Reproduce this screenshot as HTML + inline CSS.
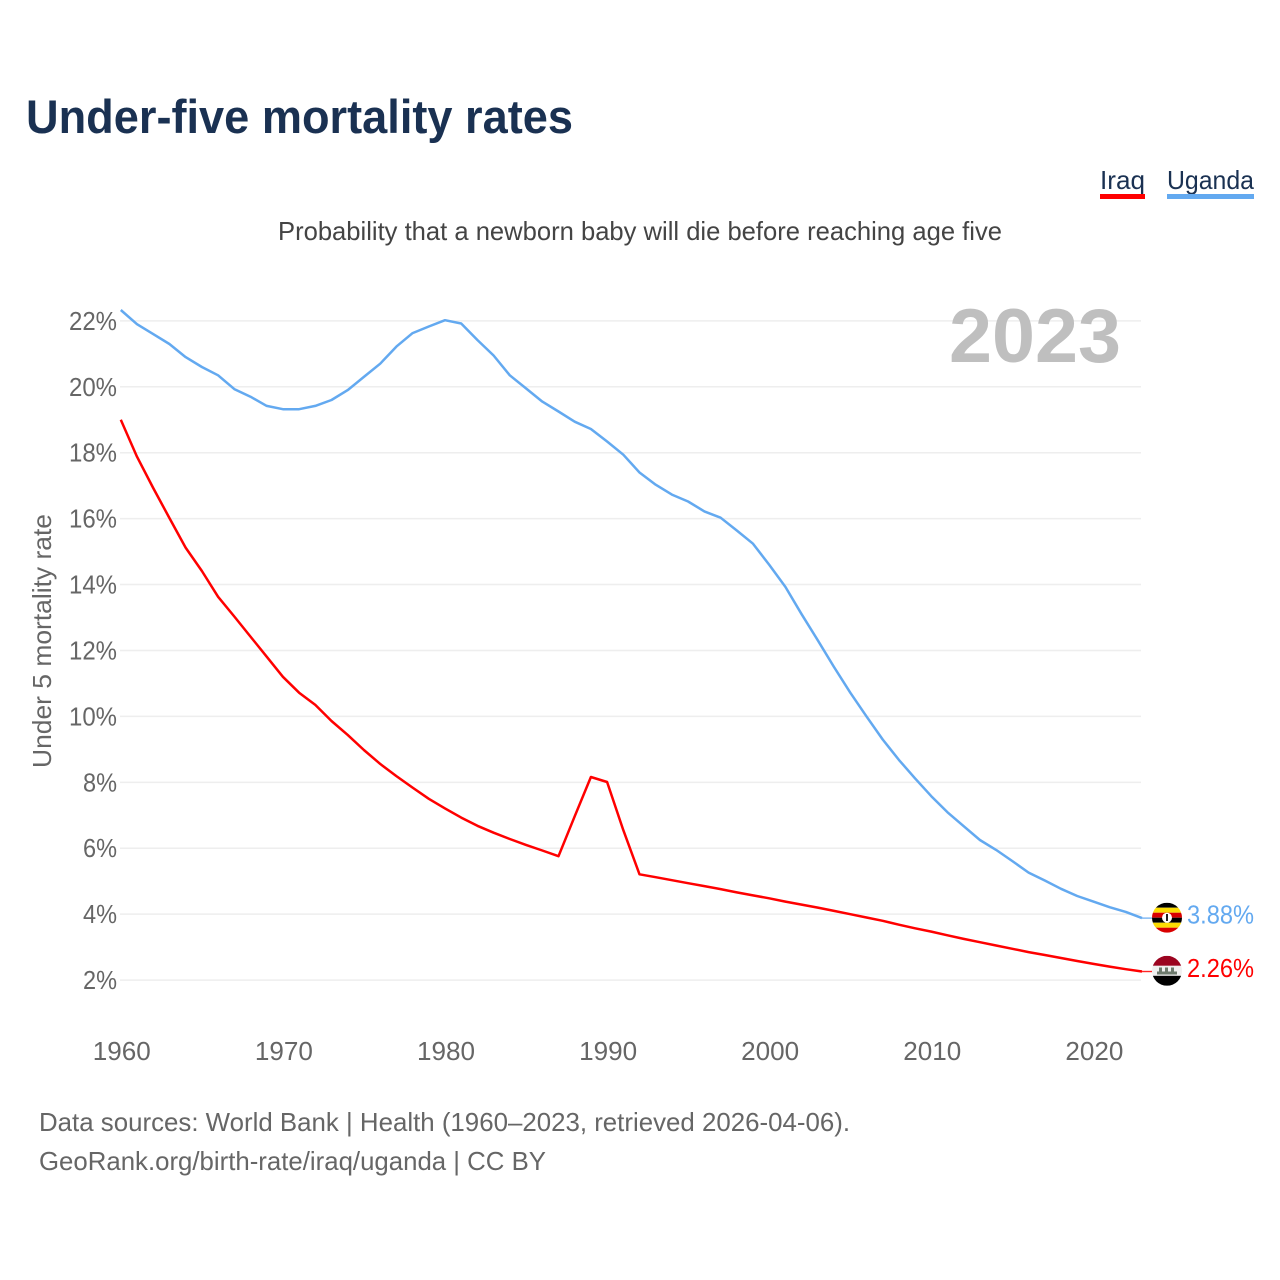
<!DOCTYPE html>
<html lang="en">
<head>
<meta charset="utf-8">
<title>Under-five mortality rates</title>
<style>
html,body{margin:0;padding:0;background:#fff;width:1280px;height:1280px;overflow:hidden}
svg{display:block;font-family:"Liberation Sans",sans-serif}
</style>
</head>
<body>
<svg id="chart" width="1280" height="1280" viewBox="0 0 1280 1280" xmlns="http://www.w3.org/2000/svg">
  <defs>
    <clipPath id="flag-clip-ug"><circle cx="1167" cy="917.7" r="15"/></clipPath>
    <clipPath id="flag-clip-iq"><circle cx="1167" cy="970.8" r="15"/></clipPath>
  </defs>
  <text x="26" y="133" font-size="47" font-weight="700" fill="#1a3152" textLength="547" lengthAdjust="spacingAndGlyphs">Under-five mortality rates</text>
  <g>
    <g>
      <text x="1100" y="189" font-size="26" fill="#1a3152" textLength="45" lengthAdjust="spacingAndGlyphs">Iraq</text>
      <rect x="1100" y="194" width="45" height="5" fill="#ff0000"/>
    </g>
    <g>
      <text x="1167" y="189" font-size="26" fill="#1a3152" textLength="87" lengthAdjust="spacingAndGlyphs">Uganda</text>
      <rect x="1167" y="194" width="87" height="5" fill="#63a9f0"/>
    </g>
  </g>
  <text x="278" y="240" font-size="26" fill="#444" textLength="724" lengthAdjust="spacingAndGlyphs">Probability that a newborn baby will die before reaching age five</text>
  <g id="grid"></g>
  <g id="y-ticks"></g>
  <g id="x-ticks"></g>
  <text transform="translate(51,768) rotate(-90)" font-size="26" fill="#666" textLength="254" lengthAdjust="spacingAndGlyphs">Under 5 mortality rate</text>
  <text x="949" y="362" font-size="76" font-weight="700" fill="#bfbfbf" textLength="172" lengthAdjust="spacingAndGlyphs">2023</text>
  <g id="series"></g>
  <g clip-path="url(#flag-clip-ug)">
    <rect x="1152" y="902.7" width="30" height="5" fill="#000"/>
    <rect x="1152" y="907.7" width="30" height="5" fill="#fcdc04"/>
    <rect x="1152" y="912.7" width="30" height="5" fill="#d90000"/>
    <rect x="1152" y="917.7" width="30" height="5" fill="#000"/>
    <rect x="1152" y="922.7" width="30" height="5" fill="#fcdc04"/>
    <rect x="1152" y="927.7" width="30" height="5" fill="#d90000"/>
    <circle cx="1167" cy="917.7" r="5" fill="#fff"/>
    <rect x="1166" y="914" width="2" height="7" fill="#222"/>
  </g>
  <g clip-path="url(#flag-clip-iq)">
    <rect x="1152" y="955.8" width="30" height="10" fill="#9c0420"/>
    <rect x="1152" y="965.8" width="30" height="10" fill="#f0f0f0"/>
    <rect x="1152" y="975.8" width="30" height="10" fill="#000"/>
    <rect x="1157" y="971.5" width="20" height="3" fill="#6d7a6d"/>
    <rect x="1159" y="967.5" width="3" height="5" fill="#6d7a6d"/>
    <rect x="1165" y="967.5" width="3" height="5" fill="#6d7a6d"/>
    <rect x="1171" y="967.5" width="3" height="5" fill="#6d7a6d"/>
  </g>
  <g id="end-labels"></g>
  <text x="39" y="1131" font-size="26" fill="#666" textLength="811" lengthAdjust="spacingAndGlyphs">Data sources: World Bank | Health (1960–2023, retrieved 2026-04-06).</text>
  <text x="39" y="1170" font-size="26" fill="#666" textLength="507" lengthAdjust="spacingAndGlyphs">GeoRank.org/birth-rate/iraq/uganda | CC BY</text>
</svg>
<script>
var startYear = 1960;
var uganda = [22.33,21.9,21.6,21.3,20.9,20.6,20.35,19.93,19.7,19.42,19.32,19.32,19.42,19.6,19.9,20.3,20.7,21.22,21.63,21.83,22.02,21.92,21.42,20.95,20.35,19.95,19.55,19.25,18.94,18.72,18.34,17.94,17.4,17.03,16.73,16.52,16.22,16.03,15.64,15.24,14.6,13.93,13.1,12.31,11.5,10.72,10.0,9.3,8.68,8.12,7.58,7.09,6.67,6.25,5.95,5.61,5.26,5.02,4.77,4.55,4.38,4.21,4.07,3.88];
var iraq = [19.0,17.88,16.93,16.02,15.12,14.41,13.63,13.03,12.42,11.81,11.2,10.72,10.35,9.86,9.44,8.98,8.56,8.19,7.84,7.5,7.21,6.93,6.68,6.47,6.28,6.1,5.93,5.76,6.97,8.16,8.01,6.55,5.21,5.12,5.03,4.94,4.85,4.76,4.66,4.57,4.48,4.38,4.29,4.2,4.1,4.0,3.9,3.8,3.68,3.57,3.47,3.36,3.25,3.15,3.05,2.95,2.85,2.76,2.67,2.58,2.49,2.41,2.33,2.26];
var yTicks = [2,4,6,8,10,12,14,16,18,20,22];
var xTicks = [1960,1970,1980,1990,2000,2010,2020];

var NS = 'http://www.w3.org/2000/svg';
function xScale(year){ return 120.8 + (year - 1960) * 16.21; }
function yScale(v){ return 1046 - v * 32.96; }
function make(tag, parent, attrs){
  var el = document.createElementNS(NS, tag);
  for (var k in attrs) el.setAttribute(k, attrs[k]);
  parent.appendChild(el);
  return el;
}
var gridG = document.getElementById('grid');
var yG = document.getElementById('y-ticks');
var xG = document.getElementById('x-ticks');
var seriesG = document.getElementById('series');
var endG = document.getElementById('end-labels');

yTicks.forEach(function(t){
  var line = make('line', gridG, {x1:120, x2:1141, y1:yScale(t), y2:yScale(t), stroke:'#eeeeee', 'stroke-width':1.5});
  
  
  var s = t + '%';
  var label = make('text', yG, {x:117, y:yScale(t)+9, 'font-size':26, fill:'#666', 'text-anchor':'end', textLength:s.length === 3 ? 48 : 34, lengthAdjust:'spacingAndGlyphs'});
  label.textContent = s;
  
  
});
xTicks.forEach(function(t){
  var label = make('text', xG, {x:xScale(t)+1, y:1060, 'font-size':26, fill:'#666', 'text-anchor':'middle', textLength:58, lengthAdjust:'spacingAndGlyphs'});
  label.textContent = String(t);
  
  
});
function drawSeries(values, color, name){
  var pts = values.map(function(v, i){ return xScale(startYear + i).toFixed(1) + ',' + yScale(v).toFixed(1); });
  var lastY = yScale(values[values.length - 1]);
  var lastX = xScale(startYear + values.length - 1);
  var leader = make('line', seriesG, {x1:lastX, x2:lastX + 10, y1:lastY, y2:lastY, stroke:color, 'stroke-width':1.4, opacity:0.85});
  
  
  var line = make('polyline', seriesG, {points:pts.join(' '), fill:'none', stroke:color, 'stroke-width':2.5, 'stroke-linejoin':'round'});
  
  
  var label = make('text', endG, {x:1254, y:lastY + 5.5, 'font-size':26, fill:color, 'text-anchor':'end', textLength:67, lengthAdjust:'spacingAndGlyphs'});
  label.textContent = values[values.length - 1].toFixed(2) + '%';
  
  
}
drawSeries(uganda, '#63a9f0', 'uganda');
drawSeries(iraq, '#ff0000', 'iraq');
</script>
</body>
</html>
